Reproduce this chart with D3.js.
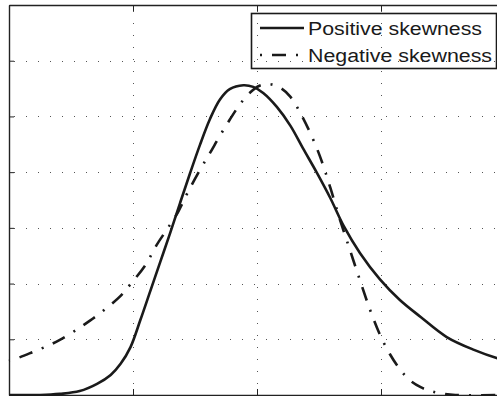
<!DOCTYPE html>
<html>
<head>
<meta charset="utf-8">
<script src="https://cdn.jsdelivr.net/npm/d3@7"></script>
<style>
  html, body { margin: 0; padding: 0; background: #fff; }
  svg { display: block; }
</style>
</head>
<body>
<script>
// x ticks and y ticks (no labels visible in the crop)
const xTicks = [0, 1, 2, 3, 4];
const yTicks = [0, 1, 2, 3, 4, 5, 6, 7];

// series
const positiveX = [0, 0.25, 0.41, 0.57, 0.71, 0.82, 0.9, 0.98, 1.06, 1.14, 1.22, 1.3, 1.38, 1.46, 1.54, 1.62, 1.7, 1.78, 1.89, 1.97, 2.05, 2.16, 2.27, 2.37, 2.48, 2.59, 2.7, 2.83, 2.99, 3.15, 3.32, 3.53, 3.75, 3.94, 4.0];
const positiveY = [0, 0, 0.02, 0.07, 0.2, 0.36, 0.56, 0.86, 1.35, 1.87, 2.39, 2.91, 3.45, 3.98, 4.49, 4.95, 5.3, 5.49, 5.56, 5.53, 5.42, 5.17, 4.83, 4.43, 4.0, 3.54, 3.03, 2.55, 2.08, 1.71, 1.4, 1.04, 0.81, 0.66, 0.63];

const negativeX = [0, 0.09, 0.19, 0.33, 0.41, 0.53, 0.65, 0.77, 0.9, 0.98, 1.1, 1.19, 1.27, 1.36, 1.44, 1.54, 1.62, 1.7, 1.78, 1.86, 1.94, 2.02, 2.1, 2.19, 2.27, 2.35, 2.43, 2.51, 2.59, 2.67, 2.75, 2.83, 2.91, 2.99, 3.07, 3.15, 3.23, 3.32, 3.4, 3.48, 3.6, 4.0];
const negativeY = [0.61, 0.68, 0.77, 0.9, 0.99, 1.15, 1.33, 1.53, 1.78, 1.99, 2.33, 2.69, 2.96, 3.27, 3.63, 4.04, 4.34, 4.65, 4.94, 5.21, 5.42, 5.55, 5.58, 5.51, 5.35, 5.06, 4.7, 4.27, 3.73, 3.14, 2.6, 2.06, 1.54, 1.09, 0.74, 0.47, 0.27, 0.14, 0.07, 0.03, 0, 0];

const seriesNames = ['Positive skewness', 'Negative skewness'];

const width = 497;
const height = 396;
const marginLeft = 9;
const marginTop = 5;
const plotW = 496; // right edge falls outside the crop
const plotH = 390;

const x = d3.scaleLinear().domain([0, 4]).range([marginLeft, marginLeft + plotW]);
const y = d3.scaleLinear().domain([0, 7]).range([marginTop + plotH, marginTop]);

const svg = d3.select('body').append('svg')
  .attr('width', width)
  .attr('height', height);

// dotted grid
const grid = svg.append('g')
  .attr('stroke', '#555')
  .attr('stroke-width', 1)
  .attr('stroke-dasharray', '1,11');

grid.selectAll('line.v')
  .data(xTicks.slice(1, -1))
  .join('line')
  .attr('class', 'v')
  .attr('x1', (d) => Math.round(x(d)) + 0.5)
  .attr('x2', (d) => Math.round(x(d)) + 0.5)
  .attr('y1', y(7) + 6)
  .attr('y2', y(0));

grid.selectAll('line.h')
  .data(yTicks.slice(1, -1))
  .join('line')
  .attr('class', 'h')
  .attr('y1', (d) => Math.round(y(d)) + 0.5)
  .attr('y2', (d) => Math.round(y(d)) + 0.5)
  .attr('x1', x(0) + 5)
  .attr('x2', x(4));

// axes with inward ticks
const axisStyle = (g) => {
  g.select('.domain').attr('stroke', '#222').attr('stroke-width', 1.4);
  g.selectAll('.tick line').attr('stroke', '#222').attr('stroke-width', 1);
  g.selectAll('.tick text').remove();
};

svg.append('g')
  .attr('transform', `translate(0,${y(0)})`)
  .call(d3.axisBottom(x).tickValues(xTicks).tickSize(-6).tickSizeOuter(0))
  .call(axisStyle);

svg.append('g')
  .attr('transform', `translate(0,${y(7)})`)
  .call(d3.axisTop(x).tickValues(xTicks).tickSize(-6).tickSizeOuter(0))
  .call(axisStyle);

svg.append('g')
  .attr('transform', `translate(${x(0)},0)`)
  .call(d3.axisLeft(y).tickValues(yTicks).tickSize(-5).tickSizeOuter(0))
  .call(axisStyle);

// curves
const line = d3.line()
  .x((d) => x(d[0]))
  .y((d) => y(d[1]))
  .curve(d3.curveCatmullRom.alpha(0.5));

const positive = d3.zip(positiveX, positiveY);
const negative = d3.zip(negativeX, negativeY);

svg.append('path')
  .datum(positive)
  .attr('fill', 'none')
  .attr('stroke', '#1a1a1a')
  .attr('stroke-width', 2.6)
  .attr('d', line);

svg.append('path')
  .datum(negative)
  .attr('fill', 'none')
  .attr('stroke', '#1a1a1a')
  .attr('stroke-width', 2.6)
  .attr('stroke-dasharray', '14,10,2,10')
  .attr('stroke-dashoffset', 25)
  .attr('d', line);

// legend (no fill, grid shows through)
const legend = svg.append('g');

legend.append('rect')
  .attr('x', 251.5)
  .attr('y', 13.5)
  .attr('width', 245)
  .attr('height', 55)
  .attr('fill', 'none')
  .attr('stroke', '#1a1a1a')
  .attr('stroke-width', 1.6);

const rows = legend.selectAll('g.row')
  .data(seriesNames)
  .join('g')
  .attr('class', 'row')
  .attr('transform', (d, i) => `translate(0,${28 + i * 27})`);

rows.append('line')
  .attr('x1', 260)
  .attr('x2', 304)
  .attr('stroke', '#1a1a1a')
  .attr('stroke-width', 2.6)
  .attr('stroke-dasharray', (d, i) => (i ? '14,10,2,10' : null))
  .attr('stroke-dashoffset', 24);

rows.append('text')
  .attr('x', 308)
  .attr('y', 6.5)
  .attr('font-family', '"Liberation Sans", Arial, sans-serif')
  .attr('font-size', 18)
  .attr('fill', '#1a1a1a')
  .attr('textLength', (d, i) => (i ? 184 : 174))
  .attr('lengthAdjust', 'spacingAndGlyphs')
  .text((d) => d);
</script>
</body>
</html>
